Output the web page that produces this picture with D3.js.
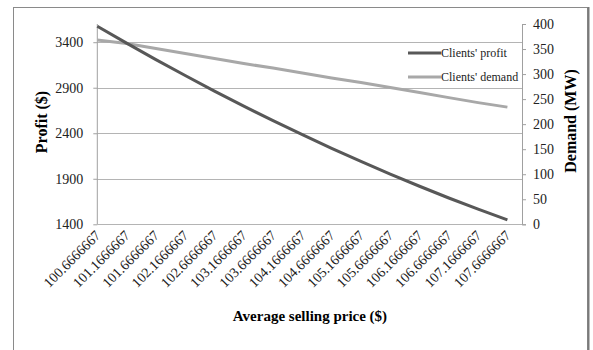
<!DOCTYPE html>
<html lang="en">
<head>
	<meta charset="utf-8">
	<title>Profit and demand vs price</title>
	<script src="https://d3js.org/d3.v7.min.js"></script>
	<style>
		body { margin: 0; background: #fff; }
		svg { display: block; font-family: "Liberation Serif", "Times New Roman", serif; }
	</style>
</head>
<body>
	<script>
		// values
		var prices = ["100.6666667", "101.1666667", "101.6666667", "102.1666667", "102.6666667",
			"103.1666667", "103.6666667", "104.1666667", "104.6666667", "105.1666667",
			"105.6666667", "106.1666667", "106.6666667", "107.1666667", "107.6666667"];
		var profit = [3576, 3390, 3209, 3034, 2863, 2698, 2538, 2384, 2234, 2090, 1951, 1818, 1689, 1566, 1448];
		var demand = [368, 361, 351, 341, 331, 321, 312, 302, 292, 283, 273, 263, 253, 243, 234];
		var profitTicks = [1400, 1900, 2400, 2900, 3400];
		var demandTicks = [0, 50, 100, 150, 200, 250, 300, 350, 400];

		var w = 593, h = 350;
		var plotLeft = 97.3, plotRight = 522, plotTop = 24, plotBottom = 224.3;

		var svg = d3.select("body").append("svg")
			.attr("width", w)
			.attr("height", h);

		svg.append("rect").attr("width", w).attr("height", h).attr("fill", "#fff");

		// chart frame
		svg.append("rect")
			.attr("x", 13.5).attr("y", 7.5)
			.attr("width", 574).attr("height", 360)
			.attr("fill", "none")
			.attr("stroke", "#8a8a8a");
		svg.append("line")
			.attr("x1", 588.5).attr("x2", 588.5).attr("y1", 7).attr("y2", h)
			.attr("stroke", "#7a7a7a").attr("stroke-width", 2);

		var x = d3.scalePoint().domain(prices).range([plotLeft, 507.4]);
		var yL = d3.scaleLinear().domain([1400, 3600]).range([plotBottom, plotTop]);
		var yR = d3.scaleLinear().domain([0, 400]).range([plotBottom, plotTop]);

		// gridlines
		svg.append("g")
			.selectAll("line")
			.data(profitTicks)
			.enter()
			.append("line")
			.attr("x1", plotLeft).attr("x2", plotRight)
			.attr("y1", function (d) { return Math.round(yL(d)) + 0.5; })
			.attr("y2", function (d) { return Math.round(yL(d)) + 0.5; })
			.attr("stroke", "#b4b4b4");

		// left axis
		var leftAxis = svg.append("g")
			.attr("transform", "translate(" + plotLeft + ",0)")
			.call(d3.axisLeft(yL).tickValues(profitTicks).tickFormat(d3.format("d")).tickSize(4).tickPadding(10));
		leftAxis.select(".domain").attr("d", "M0," + plotTop + "V" + plotBottom);

		// right axis
		var rightAxis = svg.append("g")
			.attr("transform", "translate(" + plotRight + ",0)")
			.call(d3.axisRight(yR).tickValues(demandTicks).tickSize(4).tickPadding(7));

		[leftAxis, rightAxis].forEach(function (g) {
			g.selectAll("path, line").attr("stroke", "#a0a0a0");
			g.selectAll("text").attr("font-size", 14).attr("fill", "#222")
				.attr("font-family", "Liberation Serif, Times New Roman, serif");
		});

		// category labels, rotated
		svg.append("g")
			.selectAll("text")
			.data(prices)
			.enter()
			.append("text")
			.attr("transform", function (d) {
				return "translate(" + (x(d) + 4) + "," + (plotBottom + 12) + ")rotate(-45)";
			})
			.attr("text-anchor", "end")
			.attr("font-size", 14)
			.attr("fill", "#222")
			.text(function (d) { return d; });

		// series
		var line = d3.line();
		svg.append("path")
			.attr("d", line(prices.map(function (p, i) { return [x(p), yR(demand[i])]; })))
			.attr("fill", "none")
			.attr("stroke", "#a8a8a8")
			.attr("stroke-width", 3);
		svg.append("path")
			.attr("d", line(prices.map(function (p, i) { return [x(p), yL(profit[i])]; })))
			.attr("fill", "none")
			.attr("stroke", "#585858")
			.attr("stroke-width", 3);

		// legend
		var legend = [{ name: "Clients' profit", color: "#585858", y: 53 },
			{ name: "Clients' demand", color: "#a8a8a8", y: 77 }];
		var lg = svg.append("g").selectAll("g").data(legend).enter().append("g");
		lg.append("line")
			.attr("x1", 408).attr("x2", 441)
			.attr("y1", function (d) { return d.y; })
			.attr("y2", function (d) { return d.y; })
			.attr("stroke", function (d) { return d.color; })
			.attr("stroke-width", 3);
		lg.append("text")
			.attr("x", 441).attr("y", function (d) { return d.y + 4; })
			.attr("font-size", 12)
			.attr("fill", "#222")
			.text(function (d) { return d.name; });

		// axis titles
		svg.append("text")
			.attr("text-anchor", "middle")
			.attr("transform", "translate(47,122)rotate(-90)")
			.attr("font-size", 16).attr("font-weight", "bold")
			.text("Profit ($)");
		svg.append("text")
			.attr("text-anchor", "middle")
			.attr("transform", "translate(576,121)rotate(-90)")
			.attr("font-size", 16).attr("font-weight", "bold")
			.text("Demand (MW)");
		svg.append("text")
			.attr("text-anchor", "middle")
			.attr("x", 310).attr("y", 321)
			.attr("font-size", 15).attr("font-weight", "bold")
			.text("Average selling price ($)");
	</script>
</body>
</html>
